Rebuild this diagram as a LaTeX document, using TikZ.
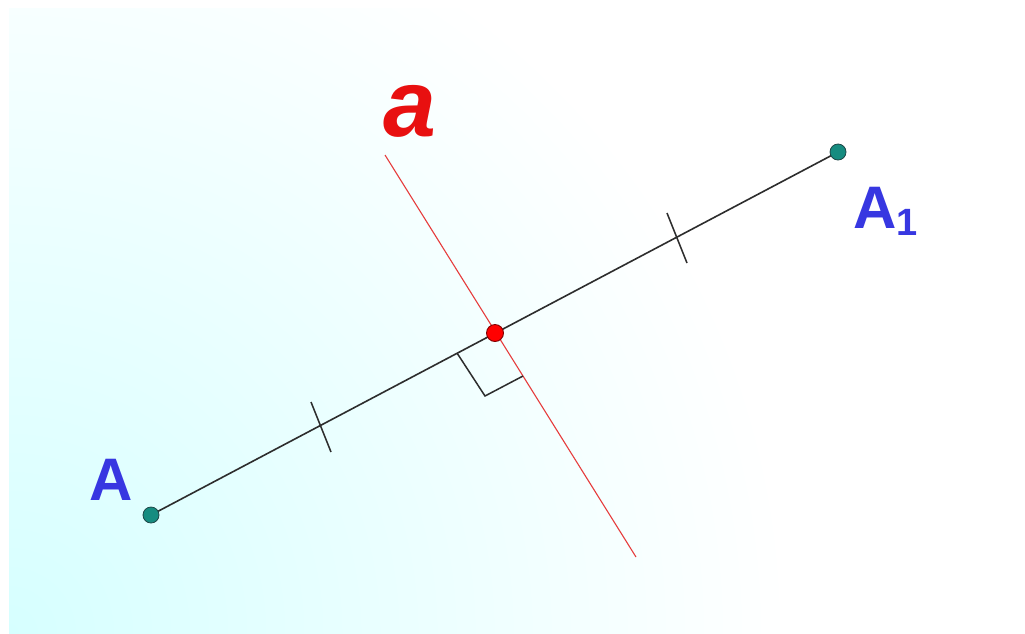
\documentclass[tikz,border=0pt]{standalone}
\usepackage{fontspec}
\setmainfont{Liberation Sans}
\usetikzlibrary{calc}
\definecolor{bgcyan}{RGB}{214,255,255}
\definecolor{ptteal}{RGB}{22,140,128}
\definecolor{ptedge}{RGB}{30,70,70}
\definecolor{lblblue}{RGB}{55,55,225}
\definecolor{lblred}{RGB}{232,16,16}
\definecolor{linered}{RGB}{230,60,60}
\definecolor{segcol}{RGB}{45,45,45}
\tikzset{
  seg/.style={draw=segcol, line width=1.6pt},
  perp/.style={draw=linered, line width=1.1pt},
  tickmark/.style={draw=segcol, line width=1.5pt},
  rightang/.style={draw=segcol, line width=1.5pt},
  endpt/.style={circle, fill=ptteal, draw=ptedge, line width=0.8pt, minimum size=16pt, inner sep=0pt},
  midpt/.style={circle, fill=red, draw=red!50!black, line width=0.9pt, minimum size=17pt, inner sep=0pt},
  ptlabel/.style={text=lblblue, inner sep=0pt, font=\fontsize{60}{60}\selectfont\bfseries},
  linelabel/.style={text=lblred, inner sep=0pt, font=\fontsize{95}{95}\selectfont\bfseries\itshape}
}
\begin{document}
\begin{tikzpicture}[x=1pt,y=-1pt]
\useasboundingbox (0,0) rectangle (1025,633);
\fill[white] (0,0) rectangle (1025,633);
\begin{scope}
  \clip (9,8) rectangle (1025,633);
  \shade[inner color=bgcyan, outer color=white] (9,633) circle[radius=780];
\end{scope}
% points
\coordinate (A) at (151,515);
\coordinate (A1) at (838,152);
\coordinate (M) at (495,333);
\coordinate (P) at (385,155);
\coordinate (Q) at (636,557);
% perpendicular line a
\draw[perp] (P) -- (Q);
% segment
\draw[seg] (A) -- (A1);
% equal-length ticks
\coordinate (T1) at (321,427);
\coordinate (T2) at (677,238);
\draw[tickmark] ($(T1)+(-10,-25)$) coordinate (T1a) -- ($(T1)+(10,25)$) coordinate (T1b);
\draw[tickmark] ($(T2)+(-10,-25)$) coordinate (T2a) -- ($(T2)+(10,25)$) coordinate (T2b);
% right angle marker
\coordinate (R1) at (457,353);
\coordinate (R2) at (523,376);
\coordinate (R3) at ($(R1)+(R2)-(M)$);
\draw[rightang] (R1) -- (R3) -- (R2);
% dots
\node[endpt] (nA) at (A) {};
\node[endpt] (nA1) at (A1) {};
\node[midpt] (nM) at (M) {};
% labels
\node[ptlabel] (lA) at (111,480) {A};
\node[ptlabel, anchor=base west] (lA1) at (853,228) {A\raisebox{-7pt}{\fontsize{38}{38}\selectfont\bfseries 1}};
\node[linelabel] (la) at (410,111) {a};
\end{tikzpicture}
\end{document}
